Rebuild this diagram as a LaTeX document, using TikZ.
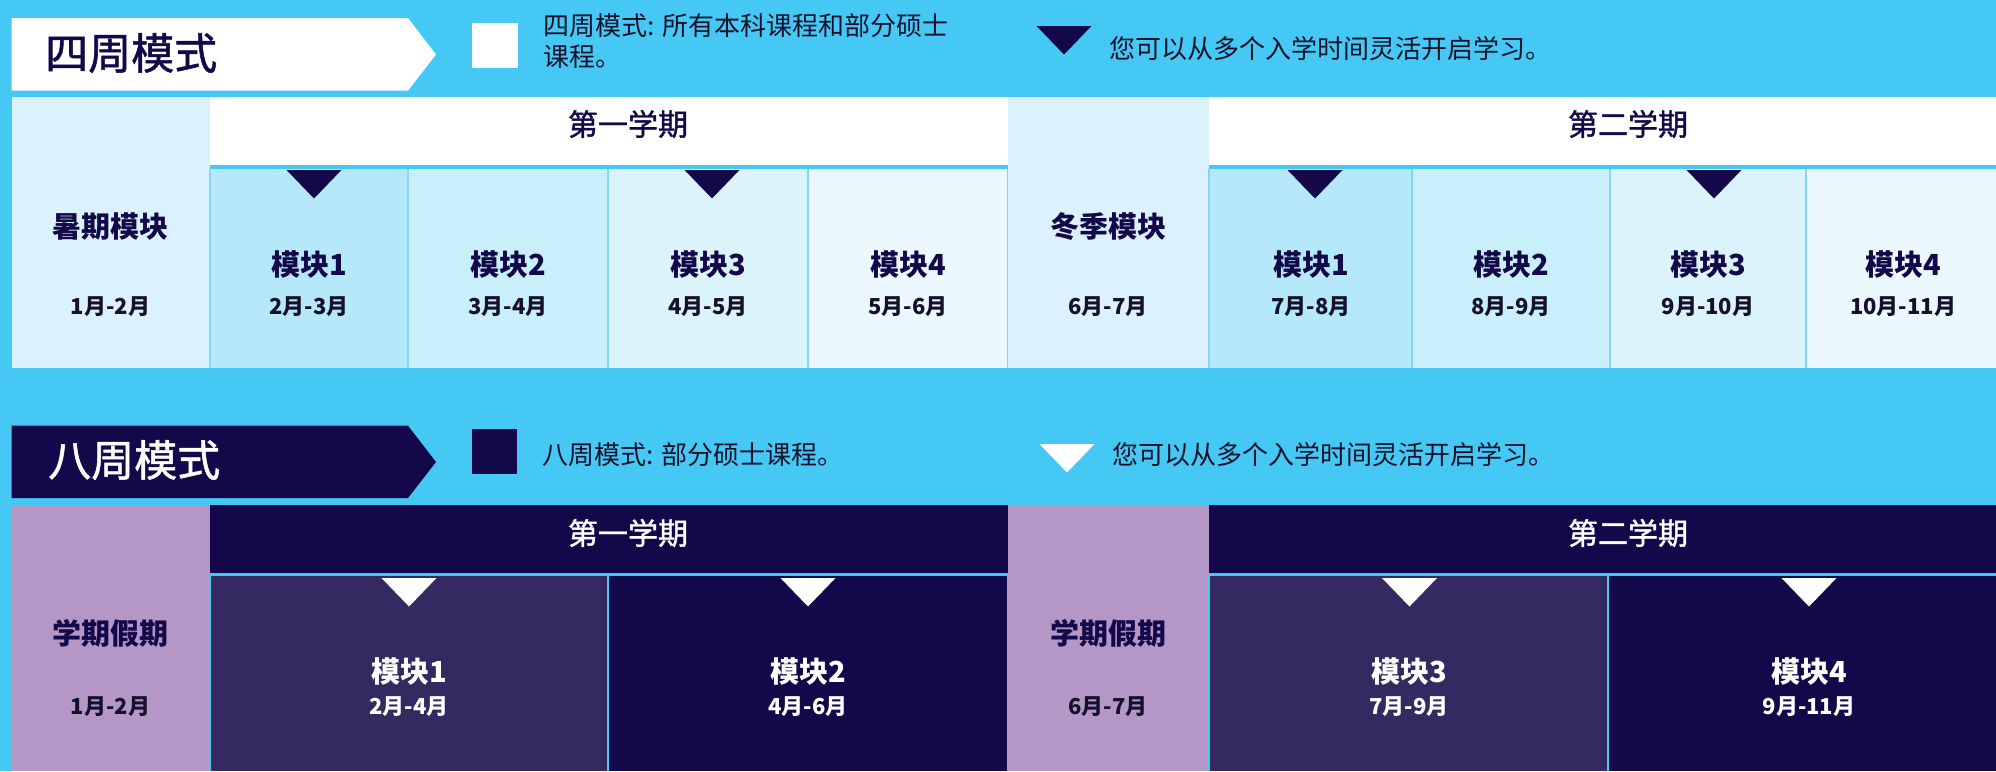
\documentclass[tikz,border=0pt]{standalone}
\usepackage{fontspec}
\setmainfont{Noto Sans CJK SC}
\newfontfamily\cjk{Noto Sans CJK SC}
\newfontfamily\cjkm{Noto Sans CJK SC}[FakeBold=1.2]
\definecolor{bg}{HTML}{46C8F5}
\definecolor{navy}{HTML}{130849}
\definecolor{navyb}{HTML}{342A61}
\definecolor{purp}{HTML}{B497C6}
\definecolor{side}{HTML}{DBF2FC}
\definecolor{mA}{HTML}{B5E9F9}
\definecolor{mB}{HTML}{C9EFFB}
\definecolor{mC}{HTML}{DBF4FC}
\definecolor{mD}{HTML}{EBF8FD}
\definecolor{divl}{HTML}{86D6F3}
\definecolor{ink}{HTML}{15112B}
\tikzset{
  lbl/.style={inner sep=0pt, font=\cjk\bfseries\fontsize{29}{31}\selectfont, text=navy},
  datel/.style={inner sep=0pt, font=\cjk\bfseries\fontsize{22}{24}\selectfont, text=ink},
  headl/.style={inner sep=0pt, font=\cjkm\fontsize{30}{32}\selectfont},
  legl/.style={inner sep=0pt, anchor=west, font=\cjk\fontsize{26}{31}\selectfont, text=ink, align=left},
  titl/.style={inner sep=0pt, anchor=west, font=\cjkm\fontsize{43}{45}\selectfont},
}
\newcommand\mytri[3]{\fill[#3] ({#1-27.5},{#2}) -- ({#1+27.5},{#2}) -- ({#1},{#2+28.5}) -- cycle;}
\begin{document}
\begin{tikzpicture}[x=1pt,y=-1pt]
\useasboundingbox (0,0) rectangle (1996,771);
\fill[bg] (0,0) rectangle (1996,771);

% ---------- four-week banner ----------
\fill[white] (11.5,18) -- (408,18) -- (436,54.5) -- (408,90.7) -- (11.5,90.7) -- cycle;
\node[titl, text=navy] (t4) at (45,53) {四周模式};
\fill[white] (472,23) rectangle (518,68);
\node[legl] (l4) at (543,41) {四周模式: 所有本科课程和部分硕士\\课程。};
\mytri{1064}{26}{navy}
\node[legl] (l4b) at (1109,49) {您可以从多个入学时间灵活开启学习。};

% ---------- four-week table ----------
\fill[side] (11.5,97) rectangle (210,368);
\fill[side] (1007.5,97) rectangle (1209,368);
\fill[white] (210,97) rectangle (1007.5,165);
\fill[white] (1209,97) rectangle (1996,165);
\fill[mA] (210,169) rectangle (408,368);
\fill[mB] (408,169) rectangle (608,368);
\fill[mC] (608,169) rectangle (808,368);
\fill[mD] (808,169) rectangle (1007.5,368);
\fill[mA] (1209,169) rectangle (1412,368);
\fill[mB] (1412,169) rectangle (1610,368);
\fill[mC] (1610,169) rectangle (1806,368);
\fill[mD] (1806,169) rectangle (1996,368);
\foreach \x in {210,408,608,808,1007.5,1209,1412,1610,1806}
  \draw[divl, line width=1.5] (\x,169) -- (\x,368);
\node[headl, text=navy] (h1) at (628,124) {第一学期};
\node[headl, text=navy] (h2) at (1628,124) {第二学期};
\mytri{314}{170}{navy}
\mytri{712}{170}{navy}
\mytri{1315}{170}{navy}
\mytri{1714}{170}{navy}
\node[lbl] (s1) at (110.5,227) {暑期模块};
\node[datel] (s1d) at (110.5,307) {1月-2月};
\node[lbl] (w1) at (1108,227) {冬季模块};
\node[datel] (w1d) at (1108,307) {6月-7月};
\foreach \cx/\m/\d [count=\i] in {309/1/2月-3月, 508/2/3月-4月, 708/3/4月-5月, 908/4/5月-6月,
    1311/1/7月-8月, 1511/2/8月-9月, 1708/3/9月-10月, 1903/4/10月-11月}{
  \node[lbl] (a\i) at (\cx,265) {模块\m};
  \node[datel] (ad\i) at (\cx,307) {\d};
}

% ---------- eight-week banner ----------
\fill[navy] (11.5,425.7) -- (408,425.7) -- (436,462) -- (408,498) -- (11.5,498) -- cycle;
\node[titl, text=white] (t8) at (48,460) {八周模式};
\fill[navy] (472,429) rectangle (517,474);
\node[legl] (l8) at (542,455) {八周模式: 部分硕士课程。};
\mytri{1067}{444}{white}
\node[legl] (l8b) at (1112,455) {您可以从多个入学时间灵活开启学习。};

% ---------- eight-week table ----------
\fill[purp] (11.5,505) rectangle (210,771);
\fill[purp] (1007.5,505) rectangle (1209,771);
\fill[navy] (210,505) rectangle (1007.5,573);
\fill[navy] (1209,505) rectangle (1996,573);
\fill[navyb] (210,576) rectangle (608,771);
\fill[navy] (608,576) rectangle (1007.5,771);
\fill[navyb] (1209,576) rectangle (1608,771);
\fill[navy] (1608,576) rectangle (1996,771);
\foreach \x in {210,608,1007.5,1209,1608}
  \draw[bg, line width=1.5] (\x,576) -- (\x,771);
\node[headl, text=white] (h3) at (628,533) {第一学期};
\node[headl, text=white] (h4) at (1628,533) {第二学期};
\mytri{409}{578}{white}
\mytri{808}{578}{white}
\mytri{1409.5}{578}{white}
\mytri{1809}{578}{white}
\node[lbl] (v1) at (110.5,633) {学期假期};
\node[datel] (v1d) at (110.5,707) {1月-2月};
\node[lbl] (v2) at (1108,633) {学期假期};
\node[datel] (v2d) at (1108,707) {6月-7月};
\foreach \cx/\m/\d [count=\i] in {409/1/2月-4月, 808/2/4月-6月, 1409/3/7月-9月, 1809/4/9月-11月}{
  \node[lbl, text=white] (b\i) at (\cx,672) {模块\m};
  \node[datel, text=white] (bd\i) at (\cx,707) {\d};
}
\end{tikzpicture}
\end{document}
